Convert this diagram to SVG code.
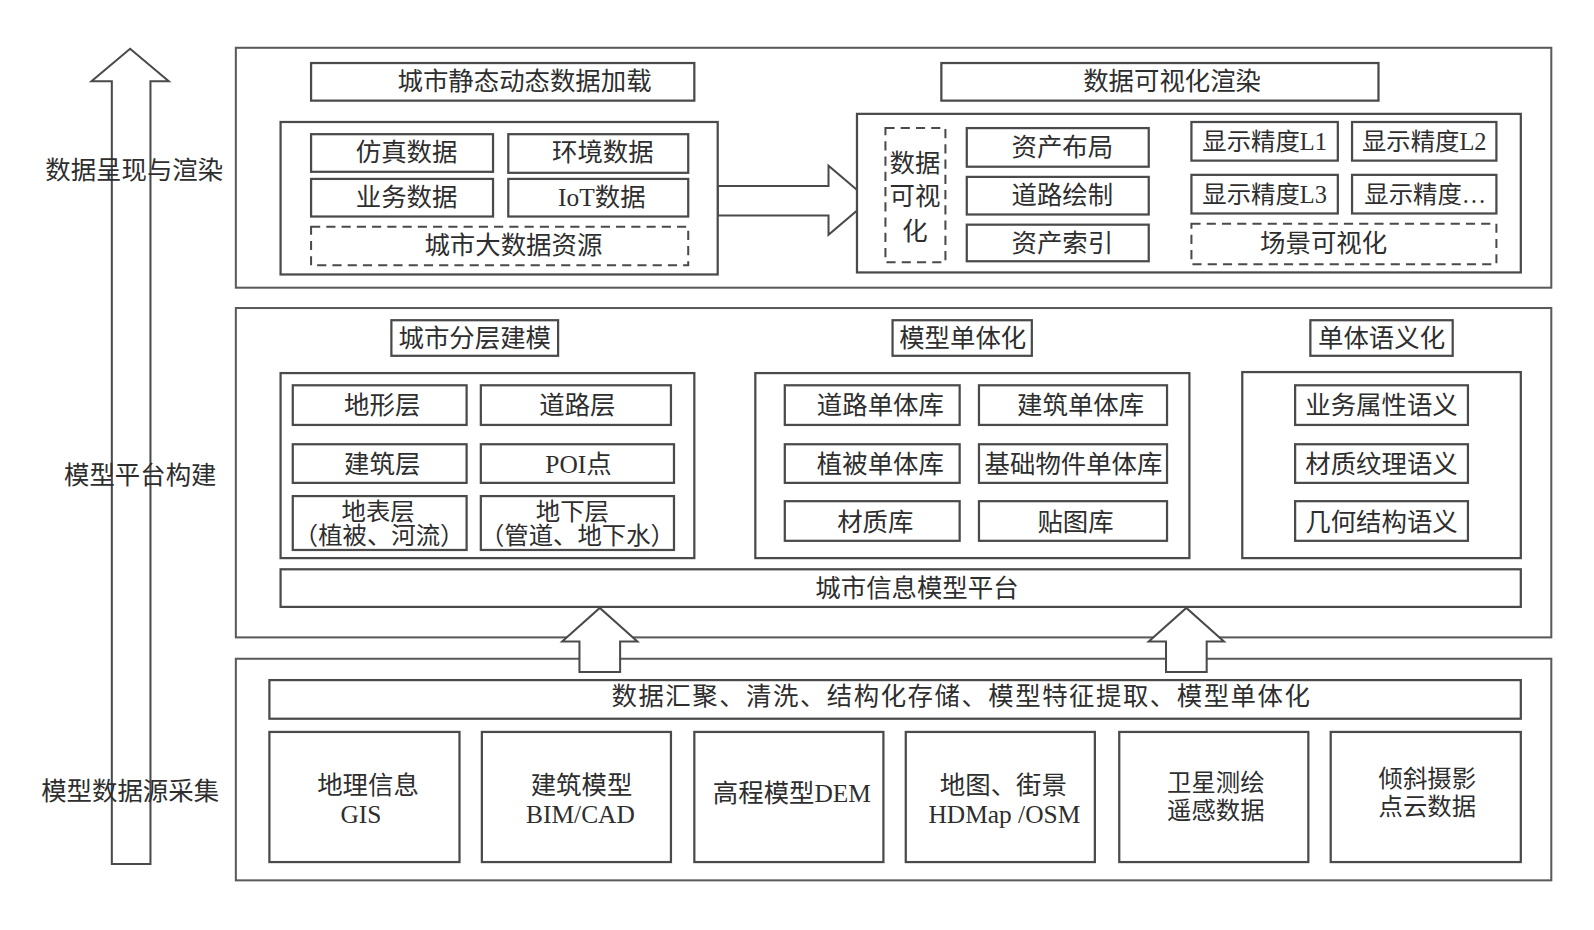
<svg xmlns="http://www.w3.org/2000/svg" width="1594" height="930" viewBox="0 0 1594 930">
<style>
.p{fill:#fff;stroke:#5a5a5a;stroke-width:2}
.b{fill:#fff;stroke:#4a4a4a;stroke-width:2.2}
.d{fill:#fff;stroke:#4a4a4a;stroke-width:2;stroke-dasharray:9 6}
.ar{fill:#fff;stroke:#4a4a4a;stroke-width:2}
text{font-family:"Liberation Serif","Noto Sans CJK SC",serif;font-size:25px;fill:#2e2e2e;text-anchor:middle;dominant-baseline:central}
.s{font-size:24px}
</style>
<rect width="1594" height="930" fill="#fff"/>
<g transform="scale(1.01658)">
<g id="axis">
<polygon class="ar" points="110,850 110,80 90,80 128,48 166,80 148,80 148,850"/>
<text x="132" y="167">数据呈现与渲染</text>
<text x="138" y="467">模型平台构建</text>
<text x="128" y="778">模型数据源采集</text>
</g>
<g id="panel-top">
<rect class="p" x="232" y="47" width="1294" height="236"/>
</g>
<g id="panel-mid">
<rect class="p" x="232" y="303" width="1294" height="324"/>
</g>
<g id="panel-bottom">
<rect class="p" x="232" y="648" width="1294" height="218"/>
</g>
<g id="connectors">
<polygon class="ar" points="706,183 815,183 815,163 855,197 815,231 815,212 706,212"/>
<polygon class="ar" points="570,661 570,631 553,631 590,598 627,631 610,631 610,661"/>
<polygon class="ar" points="1147,661 1147,631 1130,631 1167,598 1204,631 1187,631 1187,661"/>
</g>
<g id="n-load"><rect class="b" x="306" y="62" width="377" height="37"/><text x="516" y="80">城市静态动态数据加载</text></g>
<g id="n-render"><rect class="b" x="926" y="62" width="430" height="37"/><text x="1153" y="80">数据可视化渲染</text></g>
<g id="g-bigdata"><rect class="b" x="276" y="120" width="430" height="150"/></g>
<g id="n-sim"><rect class="b" x="306" y="132" width="179" height="37"/><text x="400" y="150">仿真数据</text></g>
<g id="n-env"><rect class="b" x="500" y="132" width="177" height="38"/><text x="593" y="150">环境数据</text></g>
<g id="n-biz"><rect class="b" x="306" y="176" width="179" height="37"/><text x="400" y="194">业务数据</text></g>
<g id="n-iot"><rect class="b" x="500" y="176" width="177" height="37"/><text x="592" y="194">IoT数据</text></g>
<g id="n-bigdata"><rect class="d" x="306" y="223" width="371" height="38"/><text x="505" y="241">城市大数据资源</text></g>
<g id="g-vis"><rect class="b" x="843" y="112" width="653" height="156"/></g>
<g id="n-datavis"><rect class="d" x="871" y="126" width="59" height="132"/><text x="900" y="160">数据</text><text x="900" y="193">可视</text><text x="900" y="227">化</text></g>
<g id="n-asset"><rect class="b" x="951" y="126" width="179" height="38"/><text x="1045" y="145">资产布局</text></g>
<g id="n-road"><rect class="b" x="951" y="174" width="179" height="37"/><text x="1045" y="192">道路绘制</text></g>
<g id="n-index"><rect class="b" x="951" y="221" width="179" height="36"/><text x="1045" y="239">资产索引</text></g>
<g id="n-l1"><rect class="b" x="1172" y="120" width="144" height="38"/><text class="s" x="1244" y="139">显示精度L1</text></g>
<g id="n-l2"><rect class="b" x="1330" y="120" width="142" height="38"/><text class="s" x="1401" y="139">显示精度L2</text></g>
<g id="n-l3"><rect class="b" x="1172" y="172" width="144" height="38"/><text class="s" x="1244" y="191">显示精度L3</text></g>
<g id="n-ln"><rect class="b" x="1330" y="172" width="142" height="38"/><text class="s" x="1402" y="191">显示精度…</text></g>
<g id="n-scene"><rect class="d" x="1172" y="220" width="300" height="40"/><text x="1302" y="239">场景可视化</text></g>
<g id="n-layer"><rect class="b" x="385" y="315" width="164" height="35"/><text x="467" y="332">城市分层建模</text></g>
<g id="n-unit"><rect class="b" x="878" y="315" width="137" height="35"/><text x="947" y="332">模型单体化</text></g>
<g id="n-sem"><rect class="b" x="1289" y="315" width="140" height="35"/><text x="1359" y="332">单体语义化</text></g>
<g id="g-layers"><rect class="b" x="276" y="367" width="407" height="182"/></g>
<g id="n-terrain"><rect class="b" x="288" y="379" width="171" height="39"/><text x="376" y="398">地形层</text></g>
<g id="n-roadl"><rect class="b" x="473" y="379" width="187" height="39"/><text x="568" y="398">道路层</text></g>
<g id="n-build"><rect class="b" x="288" y="437" width="171" height="38"/><text x="376" y="456">建筑层</text></g>
<g id="n-poi"><rect class="b" x="473" y="437" width="190" height="38"/><text x="569" y="456">POI点</text></g>
<g id="n-surface"><rect class="b" x="288" y="488" width="171" height="53"/><text class="s" x="372" y="503">地表层</text><text class="s" x="373" y="527">（植被、河流）</text></g>
<g id="n-under"><rect class="b" x="473" y="488" width="190" height="53"/><text class="s" x="563" y="503">地下层</text><text class="s" x="568" y="527">（管道、地下水）</text></g>
<g id="g-units"><rect class="b" x="743" y="367" width="427" height="182"/></g>
<g id="n-ru"><rect class="b" x="772" y="379" width="172" height="39"/><text x="866" y="398">道路单体库</text></g>
<g id="n-bu"><rect class="b" x="963" y="379" width="185" height="39"/><text x="1063" y="398">建筑单体库</text></g>
<g id="n-vu"><rect class="b" x="772" y="437" width="172" height="38"/><text x="866" y="456">植被单体库</text></g>
<g id="n-fu"><rect class="b" x="963" y="437" width="185" height="38"/><text x="1056" y="456">基础物件单体库</text></g>
<g id="n-mat"><rect class="b" x="772" y="493" width="172" height="39"/><text x="861" y="513">材质库</text></g>
<g id="n-tex"><rect class="b" x="963" y="493" width="185" height="39"/><text x="1058" y="513">贴图库</text></g>
<g id="g-sem"><rect class="b" x="1222" y="366" width="274" height="183"/></g>
<g id="n-s1"><rect class="b" x="1274" y="379" width="170" height="39"/><text x="1359" y="398">业务属性语义</text></g>
<g id="n-s2"><rect class="b" x="1274" y="437" width="170" height="38"/><text x="1359" y="456">材质纹理语义</text></g>
<g id="n-s3"><rect class="b" x="1274" y="493" width="170" height="39"/><text x="1359" y="513">几何结构语义</text></g>
<g id="n-cim"><rect class="b" x="276" y="560" width="1220" height="37"/><text x="902" y="578">城市信息模型平台</text></g>
<g id="n-proc"><rect class="b" x="265" y="669" width="1231" height="38"/><text x="945" y="685" textLength="687" lengthAdjust="spacing">数据汇聚、清洗、结构化存储、模型特征提取、模型单体化</text></g>
<g id="n-gis"><rect class="b" x="265" y="720" width="187" height="128"/><text x="362" y="772">地理信息</text><text x="355" y="801">GIS</text></g>
<g id="n-bim"><rect class="b" x="474" y="720" width="186" height="128"/><text x="572" y="772">建筑模型</text><text x="571" y="801">BIM/CAD</text></g>
<g id="n-dem"><rect class="b" x="683" y="720" width="186" height="128"/><text x="779" y="780">高程模型DEM</text></g>
<g id="n-map"><rect class="b" x="891" y="720" width="186" height="128"/><text x="987" y="772">地图、街景</text><text x="988" y="801">HDMap /OSM</text></g>
<g id="n-sat"><rect class="b" x="1101" y="720" width="186" height="128"/><text class="s" x="1196" y="770">卫星测绘</text><text class="s" x="1196" y="797">遥感数据</text></g>
<g id="n-obl"><rect class="b" x="1309" y="720" width="187" height="128"/><text class="s" x="1404" y="766">倾斜摄影</text><text class="s" x="1404" y="793">点云数据</text></g>
</g>
</svg>
